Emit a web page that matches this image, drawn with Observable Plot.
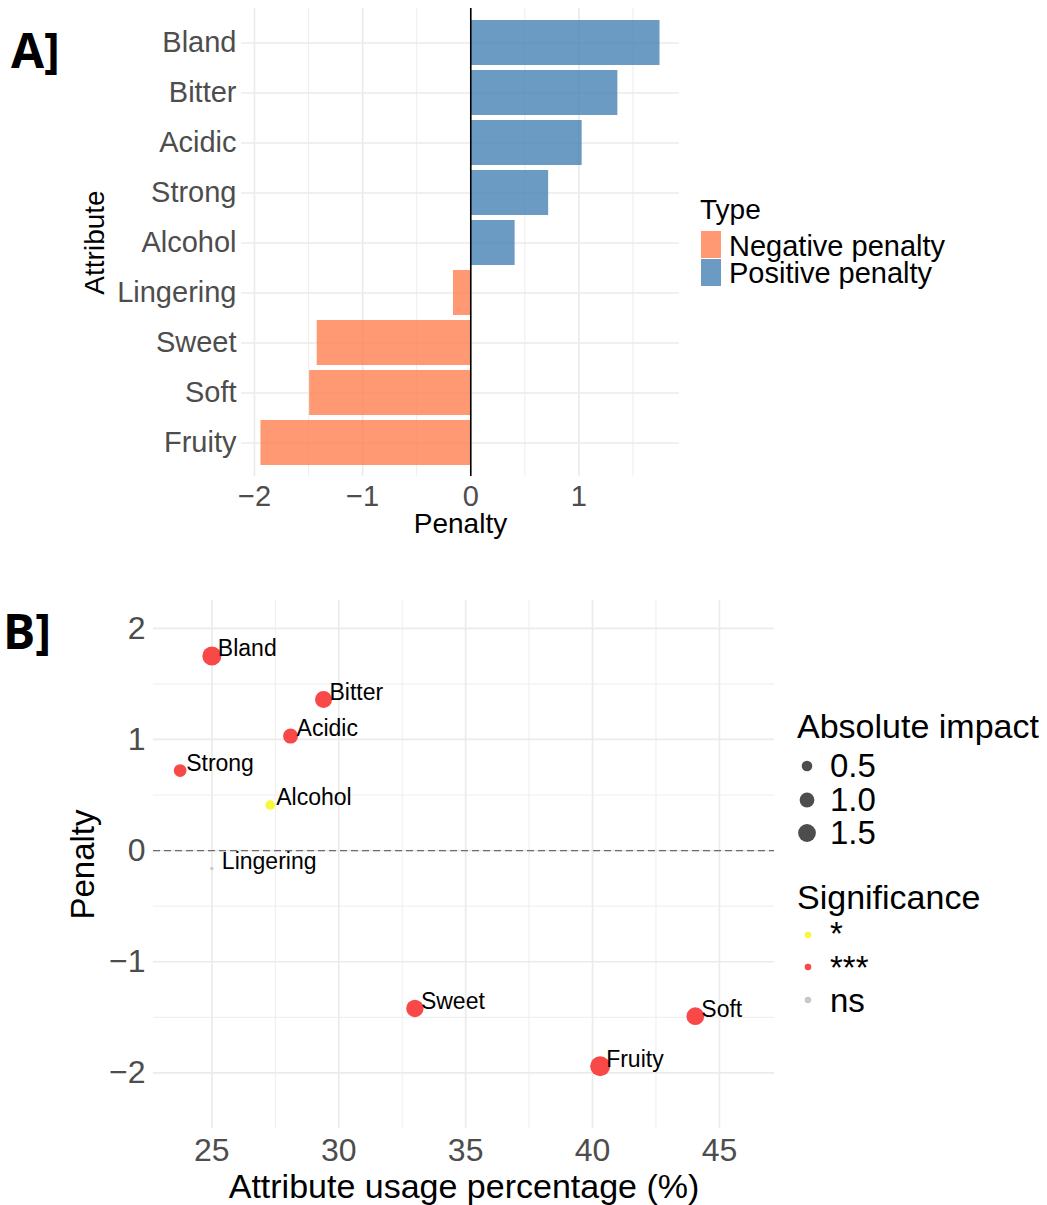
<!DOCTYPE html>
<html><head><meta charset="utf-8">
<script src="https://cdn.jsdelivr.net/npm/d3@7"></script>
<script src="https://cdn.jsdelivr.net/npm/@observablehq/plot@0.6"></script>
<style>
body{margin:0;background:#fff;font-family:"Liberation Sans",Arial,sans-serif;}
#root{position:relative;width:1047px;height:1205px;overflow:hidden;background:#fff;}
.abs{position:absolute;white-space:nowrap;line-height:0.85;color:#000;}
.tag{font-family:"Open Sans",sans-serif;font-weight:700;font-size:48px;line-height:1;}
</style></head><body><div id="root"></div>
<script>
// ---- data ----
const attributes = ["Bland","Bitter","Acidic","Strong","Alcohol","Lingering","Sweet","Soft","Fruity"];
const penalty = [1.75, 1.36, 1.03, 0.72, 0.41, -0.16, -1.42, -1.49, -1.94];
const usagePct = [25.0, 29.4, 28.1, 23.75, 27.3, 25.0, 33.0, 44.05, 40.3];
const significance = ["***","***","***","***","*","ns","***","***","***"];
const typeLabels = ["Negative penalty","Positive penalty"];
const sigLevels = ["*","***","ns"];
const sizeBreaks = [0.5, 1.0, 1.5];
const penaltyTicksA = [-2, -1, 0, 1];
const penaltyTicksB = [-2, -1, 0, 1, 2];
const usageTicks = [25, 30, 35, 40, 45];

const typeColors = ["#FF7F50", "#4682B4"];
const sigColors = ["#F8F83A", "#F84848", "#C8C8C8"];

const rows = attributes.map((a, i) => ({
  attr: a, penalty: penalty[i], usage: usagePct[i], sig: significance[i],
  type: penalty[i] < 0 ? typeLabels[0] : typeLabels[1], abs: Math.abs(penalty[i])
}));

const minus = d => (d < 0 ? "\u2212" + Math.abs(d) : String(d));
const root = document.getElementById("root");
const LH = 0.85;
const capTop = (center, fs) => (center - (LH / 2 - 0.0115) * fs) + "px";
function addDiv(html, cls, style) {
  const d = document.createElement("div");
  d.className = "abs " + (cls || "");
  d.innerHTML = html;
  Object.assign(d.style, style);
  root.appendChild(d);
  return d;
}
const FONT = "'Liberation Sans', Arial, sans-serif";

// ---- Panel A ----
const gridCol = "#EBEBEB";
const plotA = Plot.plot({
  width: 700, height: 545,
  marginLeft: 241, marginRight: 21, marginTop: 8, marginBottom: 69,
  style: {fontSize: "29px", fontFamily: FONT, color: "#4D4D4D", background: "transparent"},
  x: {domain: [-2.12, 1.93]},
  y: {domain: attributes, type: "band", paddingInner: 0.1, paddingOuter: 0.15},
  color: {domain: typeLabels, range: typeColors},
  marks: [
    Plot.gridX({ticks: [-1.5, -0.5, 0.5, 1.5], stroke: gridCol, strokeOpacity: 1, strokeWidth: 0.9}),
    Plot.gridX({ticks: penaltyTicksA, stroke: gridCol, strokeOpacity: 1, strokeWidth: 1.7}),
    Plot.gridY({stroke: gridCol, strokeOpacity: 1, strokeWidth: 1.7}),
    Plot.barX(rows, {x: "penalty", y: "attr", fill: "type", fillOpacity: 0.8}),
    Plot.ruleX([0], {stroke: "#000", strokeWidth: 1.6}),
    Plot.axisX({ticks: penaltyTicksA, tickFormat: minus, tickSize: 0, tickPadding: 9, label: null, fontSize: 29}),
    Plot.axisY({tickSize: 0, tickPadding: 5, label: null, fontSize: 29}),
    Plot.text(["Penalty"], {text: d => d, frameAnchor: "bottom", lineAnchor: "middle", textAnchor: "middle", dy: 48, fontSize: 28, fill: "#000"}),
    Plot.text(["Attribute"], {text: d => d, frameAnchor: "left", lineAnchor: "middle", textAnchor: "middle", rotate: -90, dx: -146, fontSize: 28, fill: "#000"})
  ]
});
plotA.style.position = "absolute"; plotA.style.left = "0px"; plotA.style.top = "0px";
root.appendChild(plotA);

// ---- Panel B ----
const absVals = rows.map(d => d.abs);
const absMin = d3.min(absVals), absMax = d3.max(absVals);
const rRange = [1.7, 10];
const rFn = d3.scaleSqrt().domain([0, absMax - absMin]).range(rRange);

const plotB = Plot.plot({
  width: 790, height: 645,
  marginLeft: 153, marginRight: 16, marginTop: 40, marginBottom: 77,
  style: {fontSize: "32px", fontFamily: FONT, color: "#4D4D4D", background: "transparent"},
  x: {domain: [22.7, 47.17]},
  y: {domain: [-2.5, 2.25]},
  r: {type: "sqrt", domain: [0, absMax - absMin], range: rRange},
  color: {domain: sigLevels, range: sigColors},
  marks: [
    Plot.gridX({ticks: [27.5, 32.5, 37.5, 42.5], stroke: gridCol, strokeOpacity: 1, strokeWidth: 0.9}),
    Plot.gridX({ticks: usageTicks, stroke: gridCol, strokeOpacity: 1, strokeWidth: 1.7}),
    Plot.gridY({ticks: [-1.5, -0.5, 0.5, 1.5], stroke: gridCol, strokeOpacity: 1, strokeWidth: 0.9}),
    Plot.gridY({ticks: penaltyTicksB, stroke: gridCol, strokeOpacity: 1, strokeWidth: 1.7}),
    Plot.ruleY([0], {stroke: "#6E6E6E", strokeWidth: 1.4, strokeDasharray: "7,4"}),
    Plot.dot(rows, {x: "usage", y: "penalty", r: d => d.abs - absMin, fill: "sig", stroke: null}),
    Plot.text(rows.filter(d => d.attr !== "Lingering"), {x: "usage", y: "penalty", text: "attr", textAnchor: "start", lineAnchor: "middle", dx: 6, dy: -7, fontSize: 23, fill: "#000"}),
    Plot.text(rows.filter(d => d.attr === "Lingering"), {x: "usage", y: "penalty", text: "attr", textAnchor: "start", lineAnchor: "middle", dx: 10, dy: -7, fontSize: 23, fill: "#000"}),
    Plot.axisX({ticks: usageTicks, tickSize: 0, tickPadding: 10, label: null, fontSize: 32}),
    Plot.axisY({ticks: penaltyTicksB, tickFormat: minus, tickSize: 0, tickPadding: 8, label: null, fontSize: 32}),
    Plot.text(["Attribute usage percentage (%)"], {text: d => d, frameAnchor: "bottom", lineAnchor: "middle", textAnchor: "middle", dy: 59, fontSize: 34, fill: "#000"}),
    Plot.text(["Penalty"], {text: d => d, frameAnchor: "left", lineAnchor: "middle", textAnchor: "middle", rotate: -90, dx: -70, fontSize: 33, fill: "#000"})
  ]
});
plotB.style.position = "absolute"; plotB.style.left = "0px"; plotB.style.top = "560px";
root.appendChild(plotB);

// ---- panel tags ----
addDiv("A]", "tag", {left: "11px", top: "26px"});
addDiv("B]", "tag", {left: "3px", top: "607px"});

// ---- Legend A ----
addDiv("Type", "", {left: "700px", top: capTop(210, 28), fontSize: "28px"});
typeLabels.forEach((t, i) => {
  const top = 231 + i * 28;
  addDiv("", "", {left: "701px", top: top + "px", width: "20px", height: "27px", background: typeColors[i], opacity: 0.8});
  addDiv(t, "", {left: "729px", top: capTop(245.5 + i * 27.5, 29), fontSize: "29px"});
});

// ---- Legend B ----
addDiv("Absolute impact", "", {left: "797px", top: capTop(726, 34), fontSize: "34px"});
const sizeRowsY = [766, 799.5, 832.5];
const svgNS = "http://www.w3.org/2000/svg";
function circle(cx, cy, r, fill) {
  const s = document.createElementNS(svgNS, "svg");
  s.setAttribute("width", 30); s.setAttribute("height", 30);
  s.style.position = "absolute"; s.style.left = (cx - 15) + "px"; s.style.top = (cy - 15) + "px";
  const c = document.createElementNS(svgNS, "circle");
  c.setAttribute("cx", 15); c.setAttribute("cy", 15); c.setAttribute("r", r); c.setAttribute("fill", fill);
  s.appendChild(c); root.appendChild(s);
}
sizeBreaks.forEach((v, i) => {
  circle(807, sizeRowsY[i], rFn(v - absMin), "#4D4D4D");
  addDiv(v.toFixed(1), "", {left: "830px", top: capTop(sizeRowsY[i], 33), fontSize: "33px"});
});
addDiv("Significance", "", {left: "797px", top: capTop(897, 34), fontSize: "34px"});
const sigDotY = [935, 967, 1000];
const sigTextY = [934, 968, 1001];
sigLevels.forEach((s, i) => {
  circle(808, sigDotY[i], 3.3, sigColors[i]);
  addDiv(s, "", {left: "830px", top: capTop(sigTextY[i], 33), fontSize: "33px"});
});
</script></body></html>
